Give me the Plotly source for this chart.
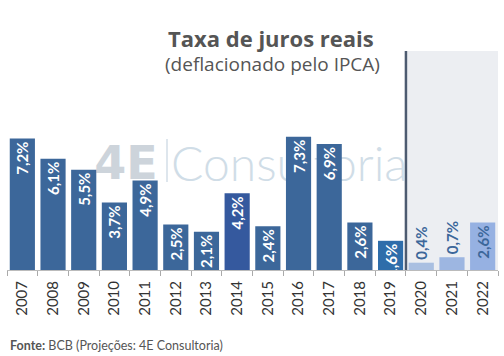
import plotly.graph_objects as go

years = ["2007", "2008", "2009", "2010", "2011", "2012", "2013", "2014",
         "2015", "2016", "2017", "2018", "2019", "2020", "2021", "2022"]
values = [7.2, 6.1, 5.5, 3.7, 4.9, 2.5, 2.1, 4.2, 2.4, 7.3, 6.9, 2.6, 1.6, 0.4, 0.7, 2.6]
bar_colors = ["#3C679A"] * 7 + ["#35599E"] + ["#3C679A"] * 4 + ["#2E6DAA"] + \
             ["#A9BFE1", "#9DB6E1", "#96B1E2"]
label_colors = ["#FFFFFF"] * 13 + ["#3C679A"] * 3
label_positions = ["inside"] * 13 + ["outside", "outside", "inside"]
labels = [f"{v:.1f}".replace(".", ",") + "%" for v in values]

title = "Taxa de juros reais"
subtitle = "(deflacionado pelo IPCA)"
source_bold = "Fonte:"
source_text = " BCB (Projeções: 4E Consultoria)"

FONT = "Lato"
TFONT = "Open Sans"

# plot area in pixels: x 7..498, y 51..270
L, R, T, B = 7, 498, 51, 270


def px(x):
    return (x - L) / (R - L)


def py(y):
    return (B - y) / (B - T)


fig = go.Figure()
fig.add_trace(go.Bar(
    x=years, y=values,
    marker=dict(color=bar_colors, line=dict(width=0)),
    text=labels,
    textposition=label_positions,
    textangle=-90,
    insidetextanchor="end",
    constraintext="none",
    textfont=dict(family=FONT, size=15, color=label_colors, weight="bold"),
    cliponaxis=False,
    hoverinfo="skip",
))

fig.update_layout(
    width=504, height=356,
    margin=dict(l=L, r=504 - R, t=T, b=356 - B),
    paper_bgcolor="white", plot_bgcolor="white",
    showlegend=False,
    bargap=0.18,
    font=dict(family=FONT, color="#555555"),
    xaxis=dict(
        type="category", tickson="boundaries", ticks="outside", ticklen=5,
        tickcolor="#AAAAAA", showline=True, linecolor="#BBBBBB", linewidth=1,
        tickangle=-90, tickfont=dict(family=FONT, size=15, color="#333333"),
        ticklabelstandoff=4, showgrid=False, range=[-0.5, 15.5],
    ),
    yaxis=dict(range=[0, 12], visible=False, showgrid=False, zeroline=False),
    shapes=[
        # projection shading
        dict(type="rect", xref="x", yref="y", x0=12.5, x1=15.57, y0=0, y1=12,
             fillcolor="#ECEEF2", line=dict(width=0), layer="below"),
        dict(type="line", xref="x", yref="y", x0=12.5, x1=12.5, y0=0, y1=12,
             line=dict(color="#4D5B70", width=2.5), layer="above"),
        # watermark (behind bars)
        dict(type="rect", xref="paper", yref="paper", x0=px(90), x1=px(162),
             y0=py(180), y1=py(140),
             line=dict(width=0), fillcolor="rgba(0,0,0,0)", layer="below",
             label=dict(text="<b>4E</b>", font=dict(family="DejaVu Sans", size=46, color="#CDD4DB"),
                        textposition="middle center")),
        dict(type="line", xref="paper", yref="paper", x0=px(167), x1=px(167),
             y0=py(182), y1=py(139),
             line=dict(color="#D3DEE7", width=1.5), layer="below"),
        dict(type="rect", xref="paper", yref="paper", x0=px(165), x1=px(412),
             y0=py(180), y1=py(142),
             line=dict(width=0), fillcolor="rgba(0,0,0,0)", layer="below",
             label=dict(text="Consultoria", font=dict(family=FONT, size=48, color="#D0DDE7",
                                                       weight=300),
                        textposition="middle left")),
    ],
    annotations=[
        dict(text=f"<b>{title}</b>", x=px(271), y=py(38), xref="paper", yref="paper",
             xanchor="center", yanchor="middle", showarrow=False,
             font=dict(family=TFONT, size=22, color="#555555")),
        dict(text=subtitle, x=px(272), y=py(64), xref="paper", yref="paper",
             xanchor="center", yanchor="middle", showarrow=False,
             font=dict(family=TFONT, size=19, color="#555555")),
        dict(text=f"<b>{source_bold}</b>{source_text}", x=px(8), y=py(345),
             xref="paper", yref="paper", xanchor="left", yanchor="middle", showarrow=False,
             font=dict(family=FONT, size=12.5, color="#555555")),
    ],
)

fig.write_html("out.html", config={"displayModeBar": False},
               post_script="document.body.style.margin='0';document.body.style.padding='0';")
